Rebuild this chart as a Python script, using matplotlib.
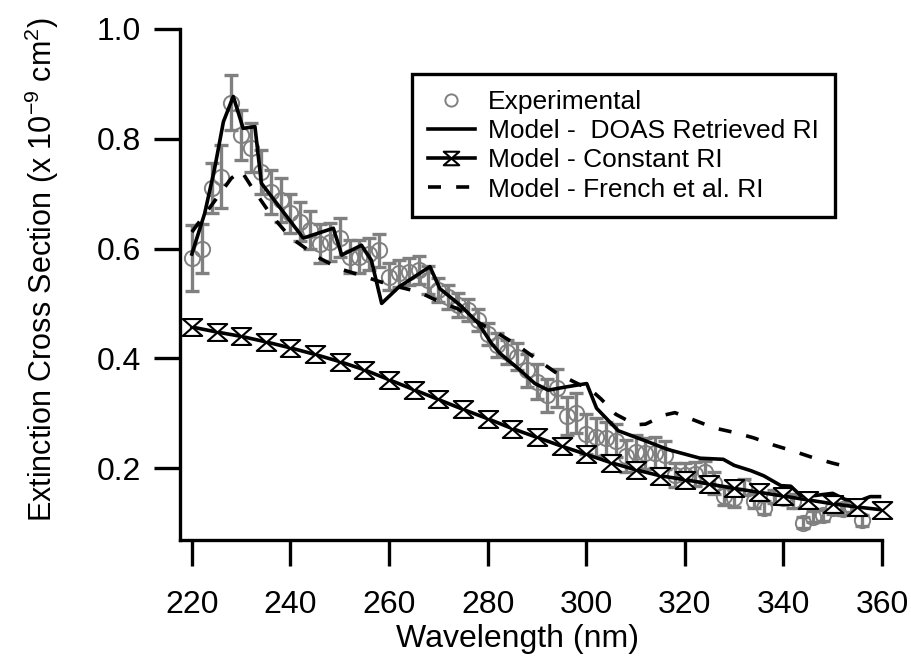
import numpy as np
import matplotlib
matplotlib.use("Agg")
import matplotlib.pyplot as plt
from matplotlib.path import Path

plt.rcParams['font.family'] = ['Liberation Sans', 'DejaVu Sans']
plt.rcParams['mathtext.fontset'] = 'custom'
plt.rcParams['mathtext.rm'] = 'Liberation Sans'
plt.rcParams['mathtext.it'] = 'Liberation Sans:italic'

# Experimental extinction cross sections (x 1e-9 cm^2), 2 nm steps
exp_wl = np.arange(220, 358, 2)
exp_val = [0.583, 0.600, 0.710, 0.731, 0.866, 0.807, 0.784, 0.740, 0.703, 0.688,
           0.664, 0.649, 0.634, 0.609, 0.612, 0.620, 0.585, 0.585, 0.590, 0.597,
           0.549, 0.555, 0.558, 0.561, 0.543, 0.524, 0.512, 0.497, 0.488, 0.470,
           0.445, 0.424, 0.412, 0.403, 0.378, 0.357, 0.333, 0.346, 0.295, 0.300,
           0.262, 0.257, 0.254, 0.250, 0.222, 0.230, 0.227, 0.228, 0.224, 0.187,
           0.187, 0.190, 0.193, 0.172, 0.150, 0.145, 0.166, 0.140, 0.128, 0.148,
           0.146, 0.140, 0.100, 0.111, 0.114, 0.127, 0.125, 0.130, 0.105]
exp_err = [0.060, 0.045, 0.045, 0.058, 0.050, 0.045, 0.045, 0.040, 0.040, 0.040,
           0.036, 0.036, 0.035, 0.035, 0.035, 0.035, 0.030, 0.030, 0.030, 0.030,
           0.025, 0.025, 0.025, 0.025, 0.025, 0.022, 0.022, 0.022, 0.020, 0.020,
           0.020, 0.022, 0.022, 0.025, 0.030, 0.032, 0.030, 0.035, 0.035, 0.036,
           0.036, 0.035, 0.030, 0.030, 0.030, 0.030, 0.028, 0.028, 0.025, 0.022,
           0.022, 0.022, 0.020, 0.020, 0.018, 0.015, 0.015, 0.012, 0.012, 0.012,
           0.012, 0.012, 0.010, 0.010, 0.010, 0.010, 0.010, 0.010, 0.010]

# Model - DOAS retrieved RI
doas_wl = [220, 222.6, 224.6, 226.4, 228.4, 230.4, 232.8, 234.1, 242.6, 248.7,
           250.4, 254.4, 256.4, 258.5, 262, 268.3, 270.3, 274.4, 278.1, 280.8,
           282.5, 286.5, 289.6, 292.3, 296, 300.1, 302.1, 306.5, 312.5, 316.5,
           323.1, 327.8, 330, 333.5, 336, 339.5, 341.5, 343.5, 346.4, 350,
           352.5, 355, 357.6, 359.5]
doas_val = [0.590, 0.664, 0.745, 0.831, 0.877, 0.819, 0.822, 0.719, 0.619, 0.637,
            0.588, 0.606, 0.579, 0.500, 0.530, 0.567, 0.527, 0.497, 0.464, 0.427,
            0.409, 0.379, 0.354, 0.342, 0.348, 0.354, 0.309, 0.268, 0.248, 0.234,
            0.218, 0.216, 0.205, 0.195, 0.186, 0.168, 0.167, 0.150, 0.150, 0.154,
            0.143, 0.139, 0.148, 0.148]

# Model - constant RI
const_wl = np.arange(220, 365, 5)
const_val = [0.457, 0.448, 0.440, 0.430, 0.419, 0.407, 0.394, 0.379, 0.361, 0.343,
             0.325, 0.307, 0.290, 0.272, 0.256, 0.240, 0.225, 0.210, 0.197, 0.186,
             0.179, 0.171, 0.163, 0.156, 0.149, 0.142, 0.135, 0.129, 0.124]

# Model - French et al. RI
french_wl = [220, 228, 230, 232, 236, 240, 246, 250, 254, 258, 262, 266, 270, 274,
             278, 282, 286, 290, 294, 298, 301, 303, 306, 310, 312, 316, 318, 322,
             326, 330, 334, 338, 342, 346, 350, 354]
french_val = [0.630, 0.728, 0.742, 0.714, 0.662, 0.620, 0.582, 0.563, 0.552, 0.540,
              0.530, 0.521, 0.504, 0.490, 0.466, 0.446, 0.424, 0.398, 0.373, 0.355,
              0.342, 0.326, 0.298, 0.279, 0.280, 0.297, 0.301, 0.287, 0.273, 0.265,
              0.255, 0.242, 0.231, 0.219, 0.209, 0.200]

gray = '#808080'
hourglass = Path([(-1.15, 1), (1.15, 1), (-1.15, -1), (1.15, -1), (-1.15, 1)],
                 [Path.MOVETO, Path.LINETO, Path.LINETO, Path.LINETO, Path.CLOSEPOLY])

fig = plt.figure(figsize=(9.12, 6.66), dpi=100)
ax = fig.add_axes([0.1974, 0.1892, 0.7697, 0.7673])

ax.errorbar(exp_wl, exp_val, yerr=exp_err, fmt='none', ecolor=gray,
            elinewidth=2.4, capsize=5.2, capthick=2.4, zorder=2)
ax.plot(exp_wl, exp_val, 'o', mfc='none', mec=gray, ms=11, mew=1.4,
        label='Experimental', zorder=3)
ax.plot(doas_wl, doas_val, '-', color='black', lw=2.6,
        label='Model -  DOAS Retrieved RI', zorder=4, clip_on=False)
ax.plot(const_wl, const_val, '-', color='black', lw=2.6, marker=hourglass,
        ms=14, mfc='white', mec='black', mew=1.5,
        label='Model - Constant RI', zorder=5, clip_on=False)
ax.plot(french_wl, french_val, color='black', lw=2.6, dashes=(3.6, 4.2),
        label='Model - French et al. RI', zorder=4)

ax.set_xlim(217.6, 360)
ax.set_ylim(0.069, 1.0)
ax.set_xticks(np.arange(220, 361, 20))
ax.set_yticks([0.2, 0.4, 0.6, 0.8, 1.0])
ax.set_yticklabels(['0.2', '0.4', '0.6', '0.8', '1.0'])

for s in ['top', 'right']:
    ax.spines[s].set_visible(False)
for s in ['left', 'bottom']:
    ax.spines[s].set_linewidth(2.4)

ax.tick_params(direction='out', length=19, width=2.4, labelsize=23, pad=9)
ax.tick_params(axis='x', pad=17)

ax.set_xlabel('Wavelength (nm)', fontsize=23)
ax.set_ylabel('Extinction Cross Section (x 10$^{-9}$ cm$^{2}$)', fontsize=22)
ax.xaxis.set_label_coords(0.481, -0.165)
ax.yaxis.set_label_coords(-0.17, 0.53)

leg = ax.legend(loc='upper right', bbox_to_anchor=(0.933, 0.912), borderaxespad=0,
                fontsize=19, frameon=True, fancybox=False, framealpha=1,
                edgecolor='black', handlelength=1.8, handletextpad=0.5,
                labelspacing=0.2, borderpad=0.6, markerscale=0.8)
leg.get_frame().set_linewidth(2.4)

fig.savefig('out.png', dpi=100)
